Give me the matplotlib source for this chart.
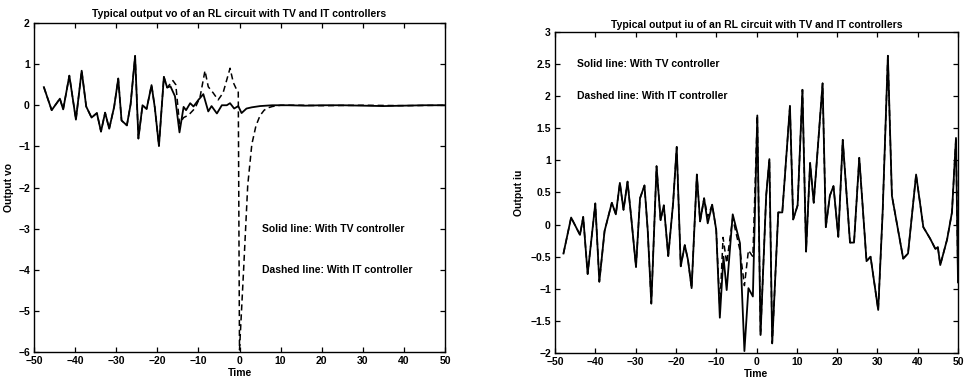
import matplotlib
matplotlib.use("Agg")
import matplotlib.pyplot as plt
import numpy as np

plt.rcParams['font.family'] = ['Liberation Sans', 'DejaVu Sans']

# ---- Left chart: output vo ----
t_vo_tv = [-47.6, -45.7, -43.7, -42.9, -41.4, -39.8, -38.4, -37.3, -36.0, -34.7,
           -33.7, -32.7, -31.7, -30.5, -29.5, -28.7, -27.4, -26.5, -25.4, -24.6,
           -23.6, -22.6, -21.4, -20.6, -19.6, -18.4, -17.6, -16.8, -15.7, -14.6,
           -13.6, -13.0, -12.0, -11.2, -10.0, -8.8, -7.6, -6.8, -5.5, -4.3,
           -3.1, -2.3, -1.3, -0.3, 0.5, 1.7, 3.0, 5.0, 8.0, 12.0,
           16.0, 20.0, 25.0, 30.0, 35.0, 40.0, 45.0, 50.0]
vo_tv = [0.44, -0.12, 0.16, -0.10, 0.72, -0.35, 0.84, -0.03, -0.30, -0.19,
         -0.64, -0.18, -0.57, -0.04, 0.65, -0.37, -0.49, 0.02, 1.20, -0.81,
         0.0, -0.09, 0.49, -0.06, -0.99, 0.69, 0.43, 0.46, 0.22, -0.66,
         -0.04, -0.12, 0.05, -0.03, 0.13, 0.27, -0.15, -0.02, -0.20, 0.0,
         0.0, 0.05, -0.08, -0.02, -0.19, -0.08, -0.05, -0.02, 0.0, 0.0,
         -0.01, 0.0, 0.0, -0.01, -0.02, -0.01, 0.0, 0.0]
# IT controller: identical to TV before this time, then:
vo_it_split = -17.0
t_vo_it_tail = [-16.2, -15.5, -14.6, -13.6, -12.4, -10.8, -9.6, -8.4, -7.6, -6.4,
                -5.2, -4.0, -2.3, -1.5, -0.7, -0.3, 0.0, 1.0, 2.0, 3.0,
                4.0, 5.0, 6.0, 7.0, 8.0, 10.0, 15.0, 20.0, 30.0, 40.0, 50.0]
vo_it_tail = [0.60, 0.50, -0.45, -0.30, -0.24, -0.07, 0.20, 0.84, 0.45, 0.30,
              0.13, 0.30, 0.90, 0.55, 0.38, 0.35, -5.95, -4.0, -1.95, -0.95,
              -0.50, -0.25, -0.12, -0.06, -0.03, 0.0, 0.0, -0.01, 0.0, -0.01, 0.0]

# ---- Right chart: output iu ----
t_iu_tv = [-47.9, -46.0, -43.8, -43.0, -41.9, -40.0, -39.0, -37.7, -35.9, -34.9,
           -33.9, -33.0, -32.0, -31.1, -29.9, -28.9, -27.8, -27.0, -26.1, -24.8,
           -23.8, -23.0, -21.9, -20.7, -19.8, -18.8, -17.8, -17.0, -16.1, -14.8,
           -14.0, -13.0, -12.1, -11.0, -10.0, -9.1, -8.2, -7.4, -5.9, -4.1,
           -3.0, -2.0, -0.9, 0.2, 1.0, 2.4, 3.2, 3.9, 5.4, 6.4,
           8.3, 9.1, 10.2, 11.4, 12.3, 13.3, 14.2, 16.4, 17.2, 18.2,
           19.1, 20.3, 21.4, 23.2, 24.2, 25.5, 27.3, 28.3, 30.2, 31.3,
           32.6, 33.6, 36.4, 37.6, 39.6, 41.4, 43.1, 44.4, 45.0, 45.6,
           47.3, 48.5, 49.5, 50.0]
iu_tv = [-0.45, 0.11, -0.16, 0.12, -0.77, 0.33, -0.89, -0.10, 0.34, 0.16,
         0.65, 0.23, 0.67, 0.12, -0.66, 0.41, 0.61, -0.08, -1.23, 0.91,
         0.07, 0.30, -0.49, 0.33, 1.21, -0.65, -0.32, -0.55, -0.99, 0.78,
         0.05, 0.41, 0.02, 0.31, -0.08, -1.45, -0.50, -1.02, 0.16, -0.29,
         -1.97, -0.99, -1.12, 1.70, -1.72, 0.45, 1.02, -1.85, 0.19, 0.19,
         1.85, 0.08, 0.30, 2.10, -0.42, 0.96, 0.34, 2.20, -0.04, 0.45,
         0.60, -0.19, 1.32, -0.28, -0.28, 1.04, -0.57, -0.50, -1.33, 0.19,
         2.63, 0.45, -0.53, -0.45, 0.78, -0.04, -0.22, -0.38, -0.35, -0.63,
         -0.23, 0.19, 1.35, -0.90]
# IT controller differs from TV only inside this window:
iu_it_window = (-12.5, 0.0)
t_iu_it_mid = [-12.1, -11.0, -10.0, -9.1, -8.3, -7.4, -5.9, -4.1, -3.0, -2.0, -0.9]
iu_it_mid = [0.12, 0.31, -0.08, -1.30, -0.20, -0.60, 0.10, -0.40, -0.95, -0.40, -0.50]

vo_yticklabels = ['\u22126', '\u22125', '\u22124', '\u22123', '\u22122', '\u22121', '0', '1', '2']
iu_yticklabels = ['\u22122', '\u22121.5', '\u22121', '\u22120.5', '0', '0.5', '1', '1.5', '2', '2.5', '3']

# build IT series
t_vo_tv_a = np.array(t_vo_tv); vo_tv_a = np.array(vo_tv)
m = t_vo_tv_a < vo_it_split
t_vo_it = np.concatenate([t_vo_tv_a[m], t_vo_it_tail])
vo_it = np.concatenate([vo_tv_a[m], vo_it_tail])

t_iu_tv_a = np.array(t_iu_tv); iu_tv_a = np.array(iu_tv)
lo, hi = iu_it_window
t_iu_it = np.concatenate([t_iu_tv_a[t_iu_tv_a < lo], t_iu_it_mid, t_iu_tv_a[t_iu_tv_a > hi]])
iu_it = np.concatenate([iu_tv_a[t_iu_tv_a < lo], iu_it_mid, iu_tv_a[t_iu_tv_a > hi]])

FS = 7.5
fig = plt.figure(figsize=(9.72, 3.82), dpi=100)
ax1 = fig.add_axes([34/972, 1-352/382, 411/972, 329/382])
ax2 = fig.add_axes([555/972, 1-353/382, 403/972, 321/382])

def style(ax):
    ax.tick_params(direction='in', top=True, right=True, length=3.5, width=0.9,
                   labelsize=FS, pad=3)
    for s in ax.spines.values():
        s.set_linewidth(1.0)
    for lab in ax.get_xticklabels() + ax.get_yticklabels():
        lab.set_fontweight('bold')

dash = (0, (4, 2.5))
ax1.plot(t_vo_it, vo_it, color='black', lw=1.1, linestyle=dash)
ax1.plot(t_vo_tv, vo_tv, color='black', lw=1.3)
ax1.set_xlim(-50, 50); ax1.set_ylim(-6, 2)
ax1.set_xticks(np.arange(-50, 51, 10)); ax1.set_yticks(np.arange(-6, 3, 1))
ax1.set_yticklabels(vo_yticklabels)
ax1.set_title('Typical output vo of an RL circuit with TV and IT controllers',
              fontsize=FS, fontweight='bold', pad=4.5)
ax1.set_xlabel('Time', fontsize=FS, fontweight='bold', labelpad=1.5)
ax1.set_ylabel('Output vo', fontsize=FS, fontweight='bold')
ax1.yaxis.set_label_coords(-0.049, 0.5)
ax1.text(5.5, -3.0, 'Solid line: With TV controller', fontsize=FS, fontweight='bold', va='center')
ax1.text(5.5, -4.0, 'Dashed line: With IT controller', fontsize=FS, fontweight='bold', va='center')
style(ax1)

ax2.plot(t_iu_it, iu_it, color='black', lw=1.1, linestyle=dash)
ax2.plot(t_iu_tv, iu_tv, color='black', lw=1.3)
ax2.set_xlim(-50, 50); ax2.set_ylim(-2, 3)
ax2.set_xticks(np.arange(-50, 51, 10)); ax2.set_yticks(np.arange(-2, 3.01, 0.5))
ax2.set_yticklabels(iu_yticklabels)
ax2.set_title('Typical output iu of an RL circuit with TV and IT controllers',
              fontsize=FS, fontweight='bold', pad=3)
ax2.set_xlabel('Time', fontsize=FS, fontweight='bold', labelpad=1.5)
ax2.set_ylabel('Output iu', fontsize=FS, fontweight='bold')
ax2.yaxis.set_label_coords(-0.077, 0.5)
ax2.text(-44.5, 2.5, 'Solid line: With TV controller', fontsize=FS, fontweight='bold', va='center')
ax2.text(-44.5, 2.0, 'Dashed line: With IT controller', fontsize=FS, fontweight='bold', va='center')
style(ax2)

fig.savefig('out.png', dpi=100)
